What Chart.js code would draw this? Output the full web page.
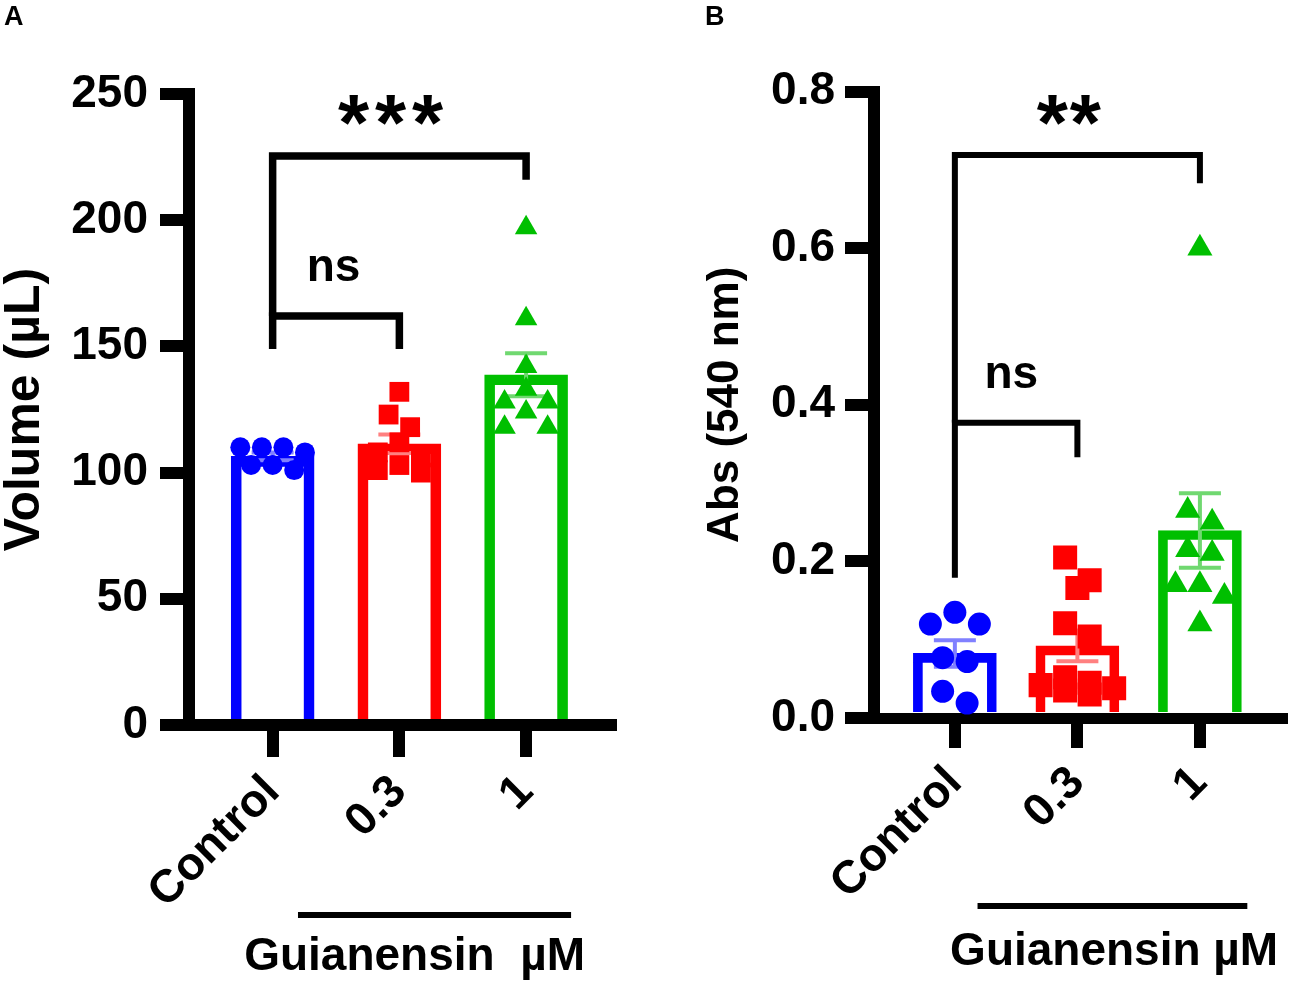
<!DOCTYPE html>
<html>
<head>
<meta charset="utf-8">
<title>Guianensin</title>
<script src="https://cdn.jsdelivr.net/npm/chart.js@4.4.1/dist/chart.umd.min.js"></script>
<style>
  body { margin: 0; background: #fff; }
  .panel { position: absolute; top: 0; height: 982px; }
  #panelA { left: 0; width: 650px; }
  #panelB { left: 650px; width: 649px; }
</style>
</head>
<body>
<div class="panel" id="panelA"><canvas id="chartA"></canvas></div>
<div class="panel" id="panelB"><canvas id="chartB"></canvas></div>
<script>
// DATOS

const categories = ["Control", "0.3", "1"];

// Panel A - volumen (µL)
const volumeControl = [110, 110, 110, 108, 103, 103, 101];
const volume03 = [132, 123, 118, 112, 108, 106, 103, 101, 100];
const volume1 = [197, 161, 142, 133, 128, 128, 124, 118, 118];
const volumeTicks = [0, 50, 100, 150, 200, 250];

// Panel B - absorbancia (540 nm)
const absControl = [0.135, 0.12, 0.12, 0.077, 0.072, 0.034, 0.019];
const abs03 = [0.205, 0.176, 0.166, 0.121, 0.104, 0.052, 0.045, 0.042, 0.038, 0.035, 0.03];
const abs1 = [0.6, 0.265, 0.25, 0.215, 0.21, 0.17, 0.17, 0.155, 0.12];
const absTicks = [0.0, 0.2, 0.4, 0.6, 0.8];

const FONT = '"Liberation Sans", Arial, sans-serif';
const colors = ["#0000ff", "#ff0000", "#00bf00"];
const errorColors = ["#8080ff", "#ff8080", "#70d870"];
const pointStyles = ["circle", "rect", "triangle"];

function mean(v) {
  return v.reduce((a, b) => a + b, 0) / v.length;
}

function sem(v) {
  const m = mean(v);
  const ss = v.reduce((a, b) => a + (b - m) * (b - m), 0);
  return Math.sqrt(ss / (v.length - 1)) / Math.sqrt(v.length);
}

/**
 * Reparte los puntos en filas (como un scatter dot plot)
 * para que no se tapen entre ellos
 */
function swarm(values, gap, step, maxRow) {
  const order = values.map((v, i) => i).sort((a, b) => values[b] - values[a]);
  const offsets = new Array(values.length).fill(0);
  let k = 0;
  while (k < order.length) {
    const row = [order[k]];
    while (
      k + row.length < order.length &&
      row.length < maxRow &&
      values[order[k]] - values[order[k + row.length]] < gap
    ) {
      row.push(order[k + row.length]);
    }
    const slots = row
      .map((_, j) => (j - (row.length - 1) / 2) * step)
      .sort((a, b) => Math.abs(a) - Math.abs(b) || a - b);
    row.forEach((idx, j) => {
      offsets[idx] = slots[j];
    });
    k += row.length;
  }
  return offsets;
}

function drawStars(ctx, text, cx, cy, size, pitch) {
  ctx.font = "bold " + size + "px " + FONT;
  ctx.textAlign = "center";
  ctx.textBaseline = "alphabetic";
  const m = ctx.measureText("*");
  const base = cy + (m.actualBoundingBoxAscent - m.actualBoundingBoxDescent) / 2;
  const n = text.length;
  for (let i = 0; i < n; i++) {
    ctx.fillText("*", cx + (i - (n - 1) / 2) * pitch, base);
  }
}

function panelPlugin(p) {
  return {
    id: "panelExtras",
    afterDatasetDraw(chart, args) {
      // barras de error (media ± SEM) encima de las barras, debajo de los puntos
      if (args.index !== 3) return;
      const xs = chart.scales.x;
      const ys = chart.scales.y;
      const ctx = chart.ctx;
      ctx.save();
      ctx.lineWidth = p.errWidth;
      p.groups.forEach((vals, i) => {
        const m = mean(vals);
        const s = sem(vals);
        const cx = xs.getPixelForValue(i);
        const top = ys.getPixelForValue(m + s);
        const bot = ys.getPixelForValue(m - s);
        ctx.strokeStyle = errorColors[i];
        ctx.beginPath();
        ctx.moveTo(cx, top);
        ctx.lineTo(cx, bot);
        ctx.moveTo(cx - p.capHalf, top);
        ctx.lineTo(cx + p.capHalf, top);
        ctx.moveTo(cx - p.capHalf, bot);
        ctx.lineTo(cx + p.capHalf, bot);
        ctx.stroke();
      });
      ctx.restore();
    },
    afterDraw(chart) {
      const xs = chart.scales.x;
      const ys = chart.scales.y;
      const ctx = chart.ctx;
      const area = chart.chartArea;
      ctx.save();
      ctx.fillStyle = "#000";
      ctx.strokeStyle = "#000";

      // corchetes de significancia
      ctx.lineWidth = p.bracketWidth;
      ctx.lineJoin = "miter";
      p.brackets.forEach((b) => {
        ctx.beginPath();
        ctx.moveTo(xs.getPixelForValue(b.from), ys.getPixelForValue(b.dropFrom));
        ctx.lineTo(xs.getPixelForValue(b.from), ys.getPixelForValue(b.level));
        ctx.lineTo(xs.getPixelForValue(b.to), ys.getPixelForValue(b.level));
        ctx.lineTo(xs.getPixelForValue(b.to), ys.getPixelForValue(b.dropTo));
        ctx.stroke();
        const tx = xs.getPixelForValue(b.textX);
        const ty = ys.getPixelForValue(b.textY);
        if (b.text === "ns") {
          ctx.font = "bold " + p.textSize + "px " + FONT;
          ctx.textAlign = "center";
          ctx.textBaseline = "middle";
          ctx.fillText(b.text, tx, ty);
        } else {
          drawStars(ctx, b.text, tx, ty, p.starSize, p.starPitch);
        }
      });

      // línea y texto del grupo tratado
      ctx.lineWidth = 6;
      ctx.beginPath();
      ctx.moveTo(xs.getPixelForValue(p.group.from), area.bottom + p.group.lineDy);
      ctx.lineTo(xs.getPixelForValue(p.group.to), area.bottom + p.group.lineDy);
      ctx.stroke();
      ctx.font = "bold " + p.textSize + "px " + FONT;
      ctx.textAlign = "center";
      ctx.textBaseline = "alphabetic";
      ctx.fillText(p.group.text, xs.getPixelForValue(p.group.textX), area.bottom + p.group.textDy);

      // letra del panel
      ctx.font = "bold 27px " + FONT;
      ctx.textAlign = "left";
      ctx.textBaseline = "top";
      ctx.fillText(p.letter, p.letterX, 4);
      ctx.restore();
    },
  };
}

function makePanel(id, p) {
  const ctx = document.getElementById(id).getContext("2d");
  const scatterSets = p.groups.map((vals, i) => {
    const offs = swarm(vals, p.gap, p.step, 4);
    return {
      type: "scatter",
      data: vals.map((v, j) => ({ x: i + offs[j], y: v })),
      pointStyle: pointStyles[i],
      pointRadius: p.radius[i],
      pointBackgroundColor: colors[i],
      pointBorderWidth: 0,
      pointHoverRadius: p.radius[i],
    };
  });

  new Chart(ctx, {
    type: "bar",
    data: {
      datasets: [
        ...scatterSets,
        {
          type: "bar",
          data: p.groups.map((vals, i) => ({ x: i, y: mean(vals) })),
          backgroundColor: "rgba(255,255,255,0)",
          borderColor: colors,
          borderWidth: p.barBorder,
          borderSkipped: "start",
          barThickness: 83,
        },
      ],
    },
    options: {
      responsive: true,
      maintainAspectRatio: false,
      animation: false,
      layout: {
        padding: { top: p.top, right: p.right, left: 0, bottom: 0 },
      },
      plugins: {
        legend: { display: false },
        tooltip: { enabled: false },
      },
      scales: {
        x: {
          type: "linear",
          offset: false,
          min: -0.66,
          max: 2.67,
          afterBuildTicks: (axis) => {
            axis.ticks = categories.map((c, i) => ({ value: i }));
          },
          afterFit: (axis) => {
            axis.height = p.xHeight;
          },
          ticks: {
            autoSkip: false,
            minRotation: 45,
            maxRotation: 45,
            padding: p.xTickPad,
            color: "#000",
            font: { family: FONT, weight: "bold", size: p.xLabelSize },
            callback: (v) => categories[v],
          },
          grid: {
            offset: false,
            drawOnChartArea: false,
            color: "#000",
            lineWidth: 12,
            tickLength: p.xTickLen,
          },
          border: { color: "#000", width: p.axisWidth },
        },
        y: {
          min: 0,
          max: p.ticks[p.ticks.length - 1],
          afterBuildTicks: (axis) => {
            axis.ticks = p.ticks.map((v) => ({ value: v }));
          },
          afterFit: (axis) => {
            axis.width = p.yWidth;
          },
          ticks: {
            padding: p.yTickPad,
            color: "#000",
            font: { family: FONT, weight: "bold", size: 46 },
            callback: p.tickFormat,
          },
          grid: {
            drawOnChartArea: false,
            color: "#000",
            lineWidth: 12,
            tickLength: 29,
          },
          border: { color: "#000", width: 12 },
          title: {
            display: true,
            text: p.yTitle,
            color: "#000",
            padding: { top: p.titlePad, bottom: 0 },
            font: { family: FONT, weight: "bold", size: p.titleSize, lineHeight: 1 },
          },
        },
      },
    },
    plugins: [panelPlugin(p)],
  });
}

// PANEL A
makePanel("chartA", {
  letter: "A",
  letterX: 4,
  groups: [volumeControl, volume03, volume1],
  ticks: volumeTicks,
  tickFormat: (v) => String(v),
  yTitle: "Volume (µL)",
  titleSize: 50,
  titlePad: 0,
  top: 94,
  right: 39,
  yWidth: 189,
  xHeight: 257,
  axisWidth: 12,
  xTickLen: 32,
  xTickPad: 8,
  xLabelSize: 46,
  yTickPad: 12,
  barBorder: 10,
  radius: [10, 14, 13],
  gap: 7,
  step: 0.17,
  errWidth: 4,
  capHalf: 21,
  bracketWidth: 7.5,
  textSize: 46,
  starSize: 80,
  starPitch: 37,
  brackets: [
    { from: 0, to: 1, level: 162, dropFrom: 149, dropTo: 149, text: "ns", textX: 0.48, textY: 181 },
    { from: 0, to: 2, level: 225.4, dropFrom: 162, dropTo: 216, text: "***", textX: 0.93, textY: 243.7 },
  ],
  group: { text: "Guianensin  µM", from: 0.2, to: 2.355, lineDy: 190, textX: 1.12, textDy: 245 },
});

// PANEL B
makePanel("chartB", {
  letter: "B",
  letterX: 55,
  groups: [absControl, abs03, abs1],
  ticks: absTicks,
  tickFormat: (v) => v.toFixed(1),
  yTitle: "Abs (540 nm)",
  titleSize: 44,
  titlePad: 54,
  top: 91.5,
  right: 9,
  yWidth: 224,
  xHeight: 264,
  axisWidth: 11,
  xTickLen: 30,
  xTickPad: 8,
  xLabelSize: 46,
  yTickPad: 10,
  barBorder: 9,
  radius: [11.5, 17, 14.5],
  gap: 0.03,
  step: 0.2,
  errWidth: 4,
  capHalf: 21,
  bracketWidth: 6,
  textSize: 46,
  starSize: 80,
  starPitch: 33,
  brackets: [
    { from: 0, to: 1, level: 0.377, dropFrom: 0.179, dropTo: 0.333, text: "ns", textX: 0.46, textY: 0.437 },
    { from: 0, to: 2, level: 0.719, dropFrom: 0.377, dropTo: 0.683, text: "**", textX: 0.93, textY: 0.776 },
  ],
  group: { text: "Guianensin µM", from: 0.185, to: 2.387, lineDy: 188, textX: 1.3, textDy: 247 },
});
</script>
</body>
</html>
